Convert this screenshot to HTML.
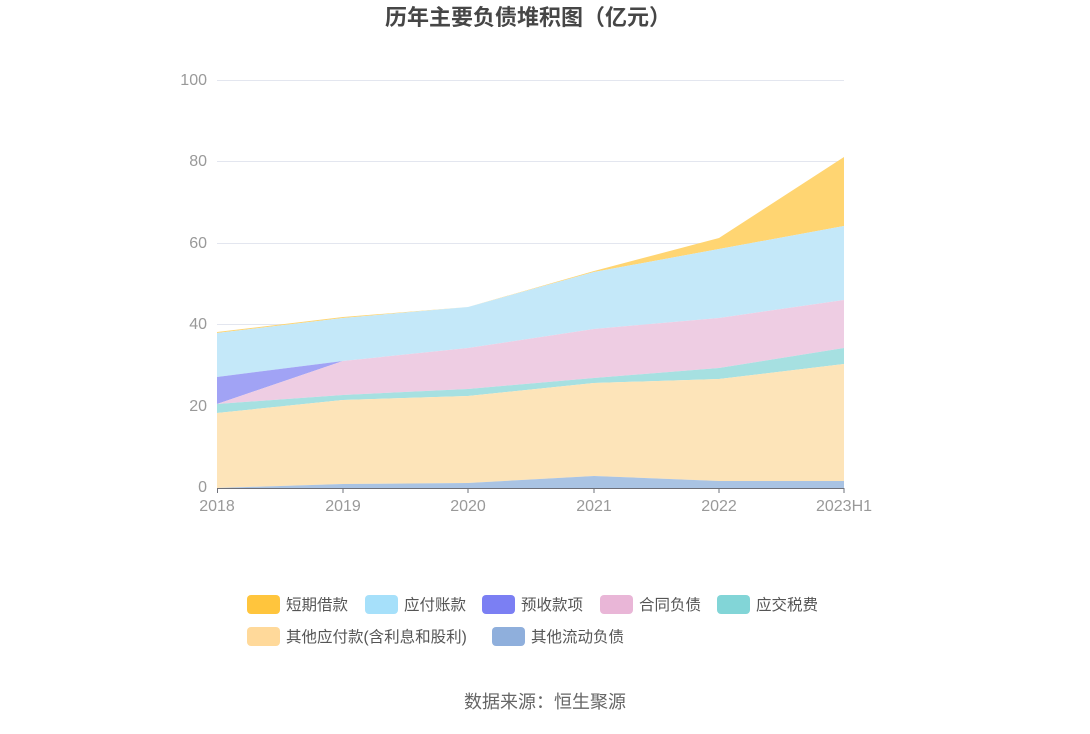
<!DOCTYPE html>
<html><head><meta charset="utf-8"><style>
body{margin:0;background:#fff;font-family:"Liberation Sans","Noto Sans CJK SC",sans-serif;}
</style></head><body>
<svg width="1090" height="729" xmlns="http://www.w3.org/2000/svg" style="font-family:'Liberation Sans','Noto Sans CJK SC',sans-serif">
<text x="528" y="25" text-anchor="middle" font-size="22" font-weight="bold" fill="#464646">历年主要负债堆积图（亿元）</text>
<g stroke="#e3e6ef" stroke-width="1">
<line x1="217" y1="80.5" x2="844" y2="80.5"/><line x1="217" y1="161.5" x2="844" y2="161.5"/>
<line x1="217" y1="243.5" x2="844" y2="243.5"/><line x1="217" y1="324.5" x2="844" y2="324.5"/>
<line x1="217" y1="406.5" x2="844" y2="406.5"/>
</g>
<g font-size="16" fill="#999" text-anchor="end">
<text x="207" y="85">100</text><text x="207" y="166">80</text><text x="207" y="248">60</text>
<text x="207" y="329">40</text><text x="207" y="411">20</text><text x="207" y="492">0</text>
</g>
<polygon fill="#ffd572" points="217,332 343,317 468,307 594,271 719,238 844,157 844,226 719,249 594,272 468,307 343,318 217,333"/>
<polygon fill="#c4e8f9" points="217,333 343,318 468,307 594,272 719,249 844,226 844,300 719,318 594,329 468,348 343,361 217,377"/>
<polygon fill="#a1a3f5" points="217,377 343,361 343,361 217,404"/>
<polygon fill="#eecde3" points="217,404 343,361 468,348 594,329 719,318 844,300 844,348 719,368 594,378 468,389 343,395 217,404"/>
<polygon fill="#a6e0e1" points="217,404 343,395 468,389 594,378 719,368 844,348 844,364 719,379 594,383 468,396 343,400 217,413"/>
<polygon fill="#fde4b9" points="217,413 343,400 468,396 594,383 719,379 844,364 844,481 719,481 594,476 468,483 343,484 217,488"/>
<polygon fill="#a9c3e3" points="217,488 343,484 468,483 594,476 719,481 844,481 844,488 217,488"/>
<line x1="217" y1="488.5" x2="844" y2="488.5" stroke="#6e7079"/>
<g stroke="#6e7079"><line x1="217.5" y1="488" x2="217.5" y2="493"/><line x1="343" y1="488" x2="343" y2="493"/><line x1="468" y1="488" x2="468" y2="493"/><line x1="594" y1="488" x2="594" y2="493"/><line x1="719" y1="488" x2="719" y2="493"/><line x1="844" y1="488" x2="844" y2="493"/></g>
<g font-size="16" fill="#999" text-anchor="middle">
<text x="217" y="511">2018</text><text x="343" y="511">2019</text><text x="468" y="511">2020</text>
<text x="594" y="511">2021</text><text x="719" y="511">2022</text><text x="844" y="511">2023H1</text>
</g>
<g font-size="15.5" fill="#555">
<rect x="247" y="595" width="33" height="19" rx="4" fill="#ffc53d"/><text x="286" y="610">短期借款</text>
<rect x="365" y="595" width="33" height="19" rx="4" fill="#a6e0fa"/><text x="404" y="610">应付账款</text>
<rect x="482" y="595" width="33" height="19" rx="4" fill="#7b7ff3"/><text x="521" y="610">预收款项</text>
<rect x="600" y="595" width="33" height="19" rx="4" fill="#e9b6d7"/><text x="639" y="610">合同负债</text>
<rect x="717" y="595" width="33" height="19" rx="4" fill="#82d5d7"/><text x="756" y="610">应交税费</text>
<rect x="247" y="627" width="33" height="19" rx="4" fill="#ffd99a"/><text x="286" y="642">其他应付款(含利息和股利)</text>
<rect x="492" y="627" width="33" height="19" rx="4" fill="#8fafdc"/><text x="531" y="642">其他流动负债</text>
</g>
<text x="545" y="708" text-anchor="middle" font-size="18" fill="#666">数据来源：恒生聚源</text>
</svg>
</body></html>
